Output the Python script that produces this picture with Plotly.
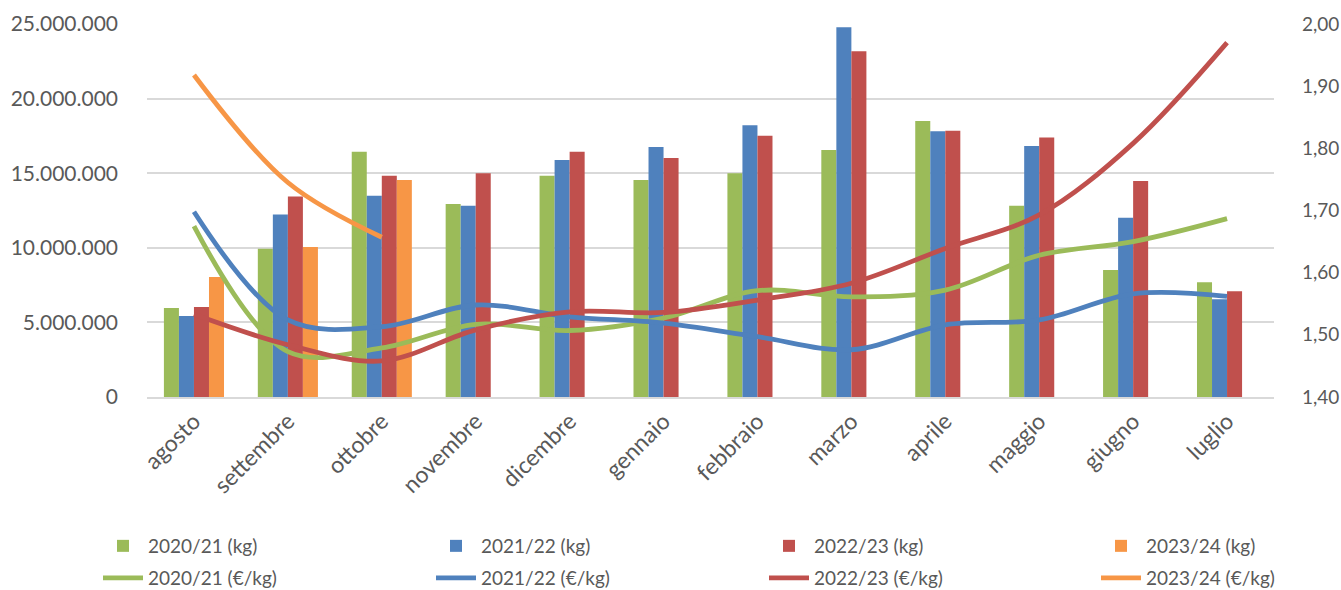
import plotly.graph_objects as go

months = ["agosto", "settembre", "ottobre", "novembre", "dicembre", "gennaio",
          "febbraio", "marzo", "aprile", "maggio", "giugno", "luglio"]

kg_2021 = [5970000, 9940000, 16440000, 12940000, 14830000, 14540000,
           14990000, 16550000, 18500000, 12820000, 8510000, 7690000]
kg_2122 = [5430000, 12240000, 13490000, 12820000, 15880000, 16760000,
           18210000, 24780000, 17810000, 16820000, 12020000, 6550000]
kg_2223 = [6030000, 13430000, 14830000, 14990000, 16440000, 16020000,
           17510000, 23170000, 17850000, 17400000, 14480000, 7080000]
kg_2324 = [8040000, 10050000, 14540000, None, None, None,
           None, None, None, None, None, None]

eur_2021 = [1.675, 1.473, 1.479, 1.517, 1.507, 1.527, 1.571, 1.561, 1.572, 1.628, 1.650, 1.687]
eur_2122 = [1.698, 1.524, 1.513, 1.548, 1.529, 1.519, 1.497, 1.476, 1.516, 1.524, 1.566, 1.562]
eur_2223 = [1.533, 1.484, 1.458, 1.508, 1.537, 1.536, 1.556, 1.583, 1.639, 1.693, 1.808, 1.970]
eur_2324 = [1.918, 1.745, 1.657, None, None, None, None, None, None, None, None, None]

names = ["2020/21", "2021/22", "2022/23", "2023/24"]
colors = ["#9BBB59", "#4F81BD", "#C0504D", "#F79646"]

FONT = "Lato"
GRAY = "#595959"
W, H = 1341, 590

fig = go.Figure()
legends = {}
col_x = [98, 431, 764, 1096]
row_y = [546, 578]

for i, (n, c, v) in enumerate(zip(names, colors, [kg_2021, kg_2122, kg_2223, kg_2324])):
    lid = "legend" if i == 0 else f"legend{i + 1}"
    fig.add_trace(go.Bar(x=months, y=v, name=f"{n} (kg)", marker_color=c,
                         marker_line_width=0, yaxis="y", legend=lid))
    legends[lid] = (col_x[i], row_y[0])
for i, (n, c, v) in enumerate(zip(names, colors, [eur_2021, eur_2122, eur_2223, eur_2324])):
    lid = f"legend{i + 5}"
    fig.add_trace(go.Scatter(x=months, y=v, name=f"{n} (€/kg)", mode="lines",
                             line=dict(color=c, width=4.8, shape="spline", smoothing=1.0),
                             yaxis="y2", connectgaps=False, legend=lid))
    legends[lid] = (col_x[i], row_y[1])

legend_layout = {}
for lid, (px, py) in legends.items():
    legend_layout[lid] = dict(orientation="h", xref="container", yref="container",
                              x=px / W, y=(H - py) / H, xanchor="left", yanchor="middle",
                              font=dict(family=FONT, size=19, color=GRAY),
                              itemwidth=40, bgcolor="rgba(0,0,0,0)")

fig.update_layout(
    width=W, height=H,
    margin=dict(l=147, r=67, t=24, b=193, autoexpand=False),
    paper_bgcolor="white", plot_bgcolor="white",
    separators=",.",
    barmode="group", bargap=0.36, bargroupgap=0,
    font=dict(family=FONT, size=19, color=GRAY),
    showlegend=True,
    xaxis=dict(tickangle=-45, showgrid=False, showline=True, linecolor="#D9D9D9",
               linewidth=1.5, ticks="", automargin=False,
               tickfont=dict(family=FONT, size=23, color=GRAY)),
    yaxis=dict(range=[0, 25000000], dtick=5000000, tickformat=",.0f",
               showgrid=True, gridcolor="#D9D9D9", gridwidth=1.5, zeroline=False,
               ticks="", automargin=False, tickfont=dict(family=FONT, size=21, color=GRAY),
               ticklabelstandoff=28),
    yaxis2=dict(range=[1.4, 2.0], dtick=0.1, tickformat=".2f", overlaying="y",
                side="right", showgrid=False, zeroline=False, ticks="", automargin=False,
                tickfont=dict(family=FONT, size=19, color=GRAY), ticklabelstandoff=27),
    **legend_layout,
)

fig.write_html("out.html")
